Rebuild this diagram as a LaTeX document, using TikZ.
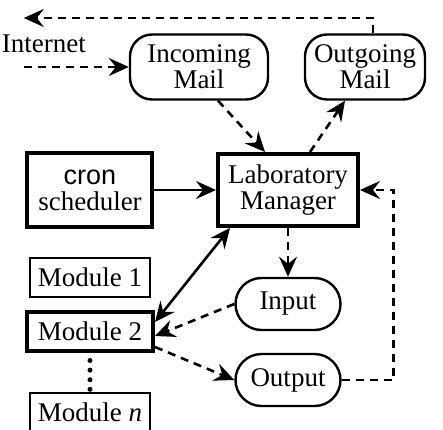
\documentclass[tikz,border=0pt]{standalone}
\usepackage{fontspec}
\setmainfont{Liberation Serif}
\setsansfont{Liberation Sans}
\usetikzlibrary{positioning,arrows.meta}

\begin{document}
\begin{tikzpicture}[>={Stealth[length=10pt,width=9pt,inset=3.5pt]},on grid,line width=1.3pt,
    font=\fontsize{13.5}{13}\selectfont]
    \tikzset{rounded/.style={draw,rectangle,rounded corners=11pt,line width=1.2pt,align=center,inner sep=0pt,minimum height=32.5pt},
      pill/.style={draw,rectangle,rounded corners=13pt,line width=1.2pt,inner sep=0pt,minimum width=52.5pt,minimum height=26pt},
      box/.style={draw,rectangle,line width=1pt,inner sep=0pt,minimum width=60pt,minimum height=19.5pt},
      heavy/.style={draw,rectangle,line width=2pt,align=center,inner sep=0pt},
      flow/.style={->,dash pattern=on 4pt off 3pt}}
    \useasboundingbox (-144pt,-119.5pt) rectangle (77.5pt,95pt);
    \node[heavy,minimum width=70pt,minimum height=36pt] (lab) at (0,0) {Laboratory\\Manager};
    \node[heavy,minimum width=62.5pt,minimum height=37pt] (cron) [left=99pt of lab] {\sffamily cron\\scheduler};
    \node[rounded,minimum width=69pt] (inmail) [above left=61.5pt and 44.5pt of lab] {Incoming\\Mail};
    \node[rounded,minimum width=60pt] (outmail) [above right=61.5pt and 38.5pt of lab] {Outgoing\\Mail};
    \node[pill] (input) [below=57pt of lab] {Input};
    \node[pill] (output) [below=38pt of input] {Output};
    \node[box] (mod1) [below=43.5pt of cron] {Module 1};
    \node[box,line width=2pt,minimum width=63pt] (mod2) [below=27pt of mod1] {Module 2};
    \node[box] (modn) [below=40.5pt of mod2] {Module \textit{n}};
    \coordinate (net) at ([xshift=-52.5pt]inmail.west);
    \coordinate (web) at ([yshift=24.5pt]net);
    \node (internet) at ([shift={(10pt,11.5pt)}]net) {Internet};
    \path[flow]
    (net) edge (inmail.west)
    ([xshift=9.5pt]inmail.south) edge ([xshift=-11.5pt]lab.north)
    ([xshift=11pt]lab.north) edge ([xshift=-10pt]outmail.south)
    (lab) edge (input)
    (input.west) edge ([yshift=-2.5pt]mod2.east)
    ([yshift=-8pt]mod2.east) edge (output.west)
    ;
    \draw[flow] ([xshift=4pt]outmail.north) |- (web);
    \draw[flow] (output.east) -- ++(26pt,0) |- (lab.east);
    \draw[->] (cron) -- (lab);
    \draw[<->] ([yshift=4.5pt]mod2.east) -- ([xshift=7pt]lab.south west);
    \draw[line width=2.5pt,line cap=round,dash pattern=on 0pt off 4.8pt,shorten <=4pt,shorten >=1pt] (mod2.south) -- (modn.north);
  \end{tikzpicture}
\end{document}
